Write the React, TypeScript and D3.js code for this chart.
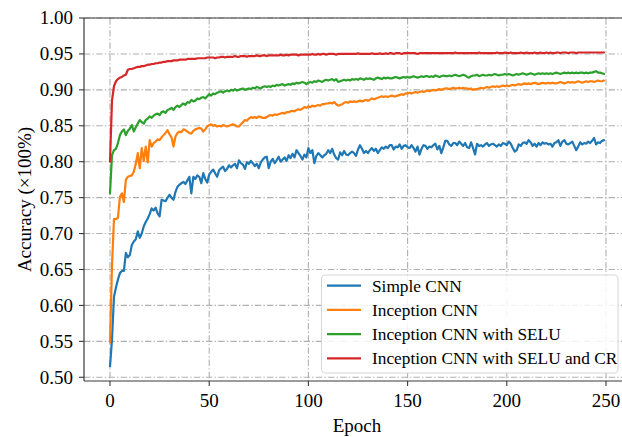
import React from "react";
import * as d3 from "d3";

// Series values (accuracy ×1000), one per epoch 0..249
const simpleCNN = [
  515,552,612,625,636,645,648,648,673,667,
  670,684,689,692,703,694,700,710,716,721,
  727,735,732,736,728,724,747,746,745,750,
  754,750,747,758,765,768,770,772,769,774,
  779,756,779,776,781,779,770,784,776,771,
  782,786,789,784,779,788,791,793,787,790,
  795,792,795,797,791,802,798,796,790,799,
  797,801,798,794,797,791,799,803,806,807,
  791,800,804,798,802,807,800,803,806,801,
  809,805,811,806,816,812,808,803,810,806,
  819,812,816,798,808,812,809,806,809,811,
  816,812,818,810,805,803,813,809,815,810,
  809,812,814,812,808,817,823,818,812,815,
  812,816,819,815,818,812,816,820,818,821,
  819,823,823,817,821,820,824,818,822,823,
  820,819,823,819,814,821,810,818,823,822,
  818,821,820,823,825,817,822,812,820,829,
  829,824,822,826,826,823,828,825,822,826,
  820,819,827,819,810,825,822,823,821,824,
  826,822,824,825,823,821,824,822,826,825,
  823,828,825,819,814,816,824,822,826,827,
  825,830,827,822,825,821,826,823,827,825,
  826,824,825,821,826,827,830,822,828,830,
  825,824,826,828,822,816,821,827,824,826,
  825,828,826,829,833,824,827,826,829,830,
];

const inceptionCNN = [
  548,655,720,720,722,751,756,744,775,779,
  780,781,786,797,812,791,819,801,821,799,
  830,821,826,828,831,830,834,837,840,844,
  838,834,821,835,840,842,841,845,844,842,
  840,839,843,845,846,847,846,842,845,849,
  851,852,850,851,849,850,849,851,850,849,
  850,851,852,851,849,849,852,855,858,857,
  860,862,861,862,861,863,862,861,861,862,
  864,865,864,866,865,866,867,868,867,869,
  869,870,871,870,872,873,872,874,876,875,
  877,876,878,877,878,879,878,880,880,881,
  881,882,881,883,880,878,879,880,882,883,
  882,884,883,884,883,884,885,884,885,886,
  885,886,888,887,888,889,890,891,890,891,
  890,891,892,891,891,892,893,894,893,895,
  895,896,895,896,897,896,897,898,897,898,
  899,898,899,900,899,900,901,900,901,902,
  902,901,902,903,902,902,903,902,903,902,
  902,901,902,900,901,901,902,903,902,903,
  904,903,904,905,904,905,904,905,906,905,
  906,905,906,907,906,907,908,907,908,909,
  908,909,908,909,910,909,908,909,910,909,
  909,910,909,910,909,909,910,911,910,909,
  910,911,910,911,910,911,912,911,910,911,
  912,911,912,912,911,912,913,912,912,913,
];

const inceptionSELU = [
  756,809,816,818,826,837,842,845,837,843,
  846,851,842,848,853,858,855,853,858,860,
  863,861,864,866,867,865,869,870,868,872,
  873,875,872,876,878,876,879,881,879,883,
  882,886,884,885,888,887,889,890,888,891,
  894,892,895,894,896,897,898,896,898,899,
  898,900,899,901,899,900,901,902,900,901,
  902,901,903,902,904,903,902,904,905,904,
  905,904,906,905,907,906,907,908,906,907,
  908,907,909,908,910,909,910,911,910,908,
  910,911,910,912,911,913,912,911,913,914,
  913,914,915,913,915,911,912,913,914,913,
  914,913,915,914,915,914,916,915,914,916,
  915,916,915,914,916,917,916,915,917,916,
  917,916,916,917,918,917,916,917,918,917,
  918,917,918,919,918,917,918,919,918,919,
  919,918,919,918,920,919,918,919,920,919,
  919,920,919,920,921,920,919,920,921,920,
  918,917,919,920,920,921,919,920,921,920,
  920,921,920,921,922,921,920,921,921,922,
  921,922,921,920,921,922,921,922,923,922,
  921,922,923,922,921,922,923,922,923,922,
  923,922,923,922,923,924,923,922,923,924,
  923,924,923,924,923,924,923,924,924,923,
  924,923,924,924,925,926,924,924,923,922,
];

const inceptionSELUCR = [
  800,885,905,912,915,917,918,920,921,928,
  929,929,930,931,932,932,933,933,934,935,
  935,936,936,937,937,938,938,939,939,940,
  940,940,941,941,941,942,942,942,942,943,
  943,943,943,943,944,944,944,944,944,945,
  945,945,945,944,945,945,946,946,945,946,
  946,946,946,947,946,946,947,947,947,946,
  947,947,947,947,948,947,947,948,948,947,
  948,948,948,948,948,948,949,948,948,949,
  948,949,949,949,949,948,949,949,949,949,
  949,949,950,949,949,950,949,950,950,949,
  950,950,950,950,949,950,950,950,950,950,
  950,950,950,950,950,951,950,950,950,950,
  950,950,951,950,950,950,951,950,950,951,
  950,951,951,950,951,951,951,950,951,951,
  951,951,951,951,951,950,951,951,951,951,
  951,951,951,951,951,951,951,951,951,951,
  951,951,951,951,952,951,951,951,951,951,
  951,951,951,951,951,951,952,951,951,951,
  951,951,951,951,951,952,951,951,951,952,
  951,951,952,951,951,951,951,952,951,951,
  952,951,951,951,952,951,951,952,951,951,
  952,951,952,951,951,952,952,951,952,952,
  952,951,952,952,952,951,952,952,952,952,
  952,952,952,952,952,952,952,952,952,952,
];

const seriesNames = [
  "Simple CNN",
  "Inception CNN",
  "Inception CNN with SELU",
  "Inception CNN with SELU and CR",
];
const seriesColors = ["#1f77b4", "#ff7f0e", "#2ca02c", "#d62728"];
const seriesData = [simpleCNN, inceptionCNN, inceptionSELU, inceptionSELUCR];

const xTicks = [0, 50, 100, 150, 200, 250];
const yTicks = [0.5, 0.55, 0.6, 0.65, 0.7, 0.75, 0.8, 0.85, 0.9, 0.95, 1.0];

const W = 622;
const H = 437;
const axLeft = 84;
const axRight = 640;
const axTop = 18;
const axBottom = 381;
const FONT = "'Liberation Serif', 'DejaVu Serif', serif";
const GRID = "#b0b0b0";
const SPINE = "#3a3a3a";

export default function App() {
  const x = d3.scaleLinear().domain([0, 250]).range([110, 606]);
  const y = d3.scaleLinear().domain([0.4948, 1.0]).range([axBottom, axTop]);

  const line = d3
    .line<number>()
    .x((_, i) => x(i))
    .y((v) => y(v / 1000));

  const legX = 321.5;
  const legY = 275;
  const legW = 296.5;
  const legH = 98;
  const rowY = (i: number) => 285.7 + i * 24.2;

  return (
    <svg
      width={W}
      height={H}
      style={{ position: "absolute", left: 0, top: 0, background: "#fff" }}
      fontFamily={FONT}
    >
      <rect x={0} y={0} width={W} height={H} fill="#fff" />
      {/* grid */}
      <g stroke={GRID} strokeWidth={1.1} strokeDasharray="6.4,2.2,1.4,2.2" fill="none">
        {yTicks.map((t) => (
          <line key={"gy" + t} x1={axLeft} x2={axRight} y1={y(t)} y2={y(t)} />
        ))}
        {xTicks.map((t) => (
          <line key={"gx" + t} x1={x(t)} x2={x(t)} y1={axTop} y2={axBottom} />
        ))}
      </g>
      {/* series */}
      <g fill="none" strokeWidth={2.2} strokeLinejoin="round" strokeLinecap="round">
        {seriesData.map((d, i) => (
          <path key={seriesNames[i]} d={line(d) || ""} stroke={seriesColors[i]} />
        ))}
      </g>
      {/* spines */}
      <g stroke={SPINE} strokeWidth={1.2}>
        <line x1={axLeft} x2={axLeft} y1={axTop} y2={axBottom} />
        <line x1={axLeft} x2={axRight} y1={axBottom} y2={axBottom} />
        <line x1={axLeft} x2={axRight} y1={axTop} y2={axTop} />
      </g>
      {/* y ticks */}
      <g>
        {yTicks.map((t) => (
          <g key={"ty" + t}>
            <line x1={axLeft - 5} x2={axLeft} y1={y(t)} y2={y(t)} stroke={SPINE} strokeWidth={1.1} />
            <text x={73} y={y(t)} dy="0.34em" textAnchor="end" fontSize={19} fill="#000">
              {t.toFixed(2)}
            </text>
          </g>
        ))}
      </g>
      {/* x ticks */}
      <g>
        {xTicks.map((t) => (
          <g key={"tx" + t}>
            <line x1={x(t)} x2={x(t)} y1={axBottom} y2={axBottom + 5} stroke={SPINE} strokeWidth={1.1} />
            <text x={x(t)} y={406.5} textAnchor="middle" fontSize={19} fill="#000">
              {t}
            </text>
          </g>
        ))}
      </g>
      {/* axis labels */}
      <text x={357} y={432} textAnchor="middle" fontSize={19} fill="#000">
        Epoch
      </text>
      <text
        transform={`translate(${31},${(axTop + axBottom) / 2}) rotate(-90)`}
        textAnchor="middle"
        fontSize={19}
        fill="#000"
      >
        Accuracy (×100%)
      </text>
      {/* legend */}
      <rect
        x={legX}
        y={legY}
        width={legW}
        height={legH}
        rx={3.5}
        fill="#fff"
        fillOpacity={0.85}
        stroke="#d6d6d6"
        strokeWidth={1}
      />
      {seriesNames.map((n, i) => (
        <g key={"leg" + n}>
          <line x1={327} x2={361} y1={rowY(i)} y2={rowY(i)} stroke={seriesColors[i]} strokeWidth={2.2} />
          <text x={372} y={rowY(i)} dy="0.34em" fontSize={17.3} fill="#000">
            {n}
          </text>
        </g>
      ))}
    </svg>
  );
}
